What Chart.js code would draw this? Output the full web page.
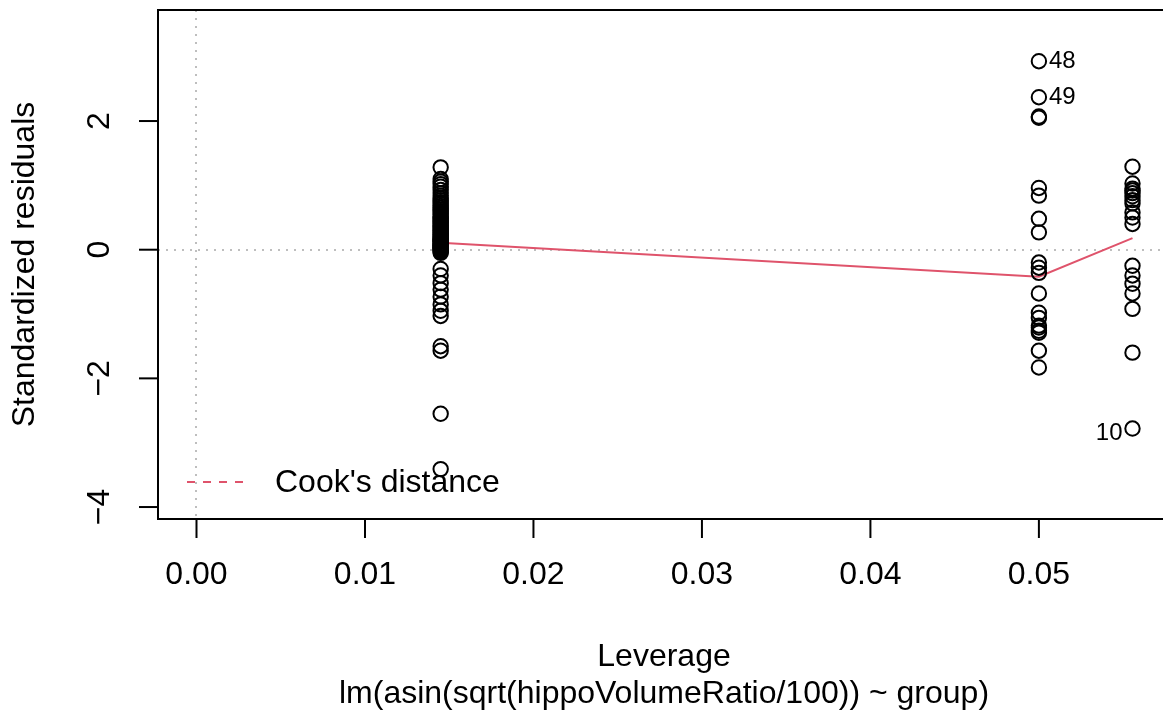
<!DOCTYPE html>
<html><head><meta charset="utf-8">
<script src="https://cdn.jsdelivr.net/npm/chart.js@4/dist/chart.umd.min.js"></script>
<style>html,body{margin:0;padding:0;background:#fff;}canvas{display:block;}</style>
</head><body>
<canvas id="c" width="1163" height="713"></canvas>
<script>
// ---- data ----
const groupLeverage = [1/69, 0.05, 1/18];
const residGroup1 = [1.28,1.10,1.06,1.02,0.98,0.93,0.88,0.84,0.80,0.77,0.74,0.71,0.68,0.65,0.62,0.60,0.57,0.55,0.52,0.50,0.48,0.46,0.44,0.42,0.40,0.38,0.36,0.34,0.32,0.30,0.29,0.27,0.25,0.24,0.22,0.20,0.19,0.17,0.16,0.15,0.14,0.13,0.12,0.10,0.09,0.08,0.07,0.06,0.05,0.04,0.03,0.02,0.01,0.00,-0.01,-0.03,-0.05,-0.30,-0.40,-0.52,-0.62,-0.73,-0.85,-0.95,-1.03,-1.50,-1.57,-2.55,-3.41];
const residGroup2 = [2.93,2.37,2.07,2.05,0.96,0.84,0.48,0.27,-0.20,-0.28,-0.36,-0.68,-0.98,-1.06,-1.18,-1.21,-1.26,-1.29,-1.57,-1.83];
const residGroup3 = [1.29,1.03,0.95,0.92,0.88,0.83,0.77,0.72,0.58,0.50,0.40,-0.25,-0.40,-0.53,-0.68,-0.92,-1.60,-2.78];
const smoothLeverage = [1/69, 0.05, 1/18];
const smoothResid = [0.11, -0.42, 0.18];
const xTicks = [0, 0.01, 0.02, 0.03, 0.04, 0.05];
const xTickLabels = ["0.00","0.01","0.02","0.03","0.04","0.05"];
const yTicks = [-4, -2, 0, 2];
const yTickLabels = ["\u22124","\u22122","0","2"];
const pointIds = ["48","49","10"];
const pointIdLev = [0.05, 0.05, 1/18];
const pointIdRes = [2.93, 2.37, -2.78];
const pointIdSide = ["right","right","left"];
const xTitle = "Leverage";
const subTitle = "lm(asin(sqrt(hippoVolumeRatio/100)) ~ group)";
const yTitle = "Standardized residuals";
const legendText = "Cook's distance";

// ---- build ----
const allResid = [residGroup1, residGroup2, residGroup3];
const pts = [];
allResid.forEach((arr, g) => arr.forEach(r => pts.push({x: groupLeverage[g], y: r})));
const smooth = smoothLeverage.map((x, i) => ({x, y: smoothResid[i]}));

const FONT = '"Liberation Sans", Arial, Helvetica, sans-serif';
const RED = '#DF536B';

const decor = {
  id: 'decor',
  beforeDatasetsDraw(chart) {
    const {ctx, chartArea: a, scales: {x, y}} = chart;
    ctx.save();
    ctx.strokeStyle = '#BEBEBE';
    ctx.lineWidth = 2;
    ctx.setLineDash([2, 6]);
    const y0 = Math.round(y.getPixelForValue(0));
    const x0 = Math.round(x.getPixelForValue(0));
    ctx.beginPath(); ctx.moveTo(a.left, y0); ctx.lineTo(a.right, y0); ctx.stroke();
    ctx.beginPath(); ctx.moveTo(x0, a.top); ctx.lineTo(x0, a.bottom); ctx.stroke();
    ctx.restore();
  },
  afterDraw(chart) {
    const {ctx, chartArea: a, scales: {x, y}} = chart;
    ctx.save();
    ctx.strokeStyle = '#000';
    ctx.lineWidth = 2;
    ctx.setLineDash([]);
    // box (right edge lies outside the picture)
    ctx.beginPath();
    ctx.moveTo(a.right + 10, a.top); ctx.lineTo(a.left, a.top);
    ctx.lineTo(a.left, a.bottom); ctx.lineTo(a.right + 10, a.bottom);
    ctx.stroke();
    // x ticks
    ctx.fillStyle = '#000';
    ctx.font = '32px ' + FONT;
    ctx.textAlign = 'center'; ctx.textBaseline = 'middle';
    xTicks.forEach((v, i) => {
      const px = x.getPixelForValue(v);
      ctx.beginPath(); ctx.moveTo(px, a.bottom); ctx.lineTo(px, a.bottom + 19); ctx.stroke();
      ctx.fillText(xTickLabels[i], px, a.bottom + 56);
    });
    // y ticks
    yTicks.forEach((v, i) => {
      const py = y.getPixelForValue(v);
      ctx.beginPath(); ctx.moveTo(a.left, py); ctx.lineTo(a.left - 19, py); ctx.stroke();
      ctx.save();
      ctx.translate(a.left - 58, py);
      ctx.rotate(-Math.PI / 2);
      ctx.fillText(yTickLabels[i], 0, 0);
      ctx.restore();
    });
    // titles
    const cx = 664;
    ctx.fillText(xTitle, cx, a.bottom + 138);
    ctx.fillText(subTitle, cx, a.bottom + 175);
    ctx.save();
    ctx.translate(25, (a.top + a.bottom) / 2);
    ctx.rotate(-Math.PI / 2);
    ctx.fillText(yTitle, 0, 0);
    ctx.restore();
    // legend
    ctx.strokeStyle = RED;
    ctx.setLineDash([8, 8]);
    ctx.beginPath(); ctx.moveTo(187, 482); ctx.lineTo(243, 482); ctx.stroke();
    ctx.setLineDash([]);
    ctx.textAlign = 'left';
    ctx.fillText(legendText, 275, 483);
    // point ids
    ctx.font = '24px ' + FONT;
    pointIds.forEach((id, i) => {
      const px = x.getPixelForValue(pointIdLev[i]);
      const py = y.getPixelForValue(pointIdRes[i]);
      if (pointIdSide[i] === 'right') {
        ctx.textAlign = 'left';
        ctx.fillText(id, px + 10, py);
      } else {
        ctx.textAlign = 'right';
        ctx.fillText(id, px - 10, py + 5);
      }
    });
    ctx.restore();
  }
};

new Chart(document.getElementById('c'), {
  type: 'scatter',
  data: {
    datasets: [
      {
        data: pts,
        pointStyle: 'circle',
        pointRadius: 7.2,
        pointHoverRadius: 7.2,
        borderColor: '#000',
        backgroundColor: 'rgba(0,0,0,0)',
        pointBorderWidth: 2,
        showLine: false
      },
      {
        type: 'line',
        data: smooth,
        borderColor: RED,
        borderWidth: 2,
        pointRadius: 0,
        tension: 0,
        fill: false
      }
    ]
  },
  options: {
    responsive: false,
    animation: false,
    devicePixelRatio: 1,
    layout: {autoPadding: false, padding: {left: 158, top: 10, right: 0, bottom: 194}},
    plugins: {legend: {display: false}, tooltip: {enabled: false}},
    events: [],
    scales: {
      x: {type: 'linear', display: false, min: -0.002285, max: 0.057366},
      y: {type: 'linear', display: false, min: -4.186, max: 3.726}
    }
  },
  plugins: [decor]
});
</script>
</body></html>
